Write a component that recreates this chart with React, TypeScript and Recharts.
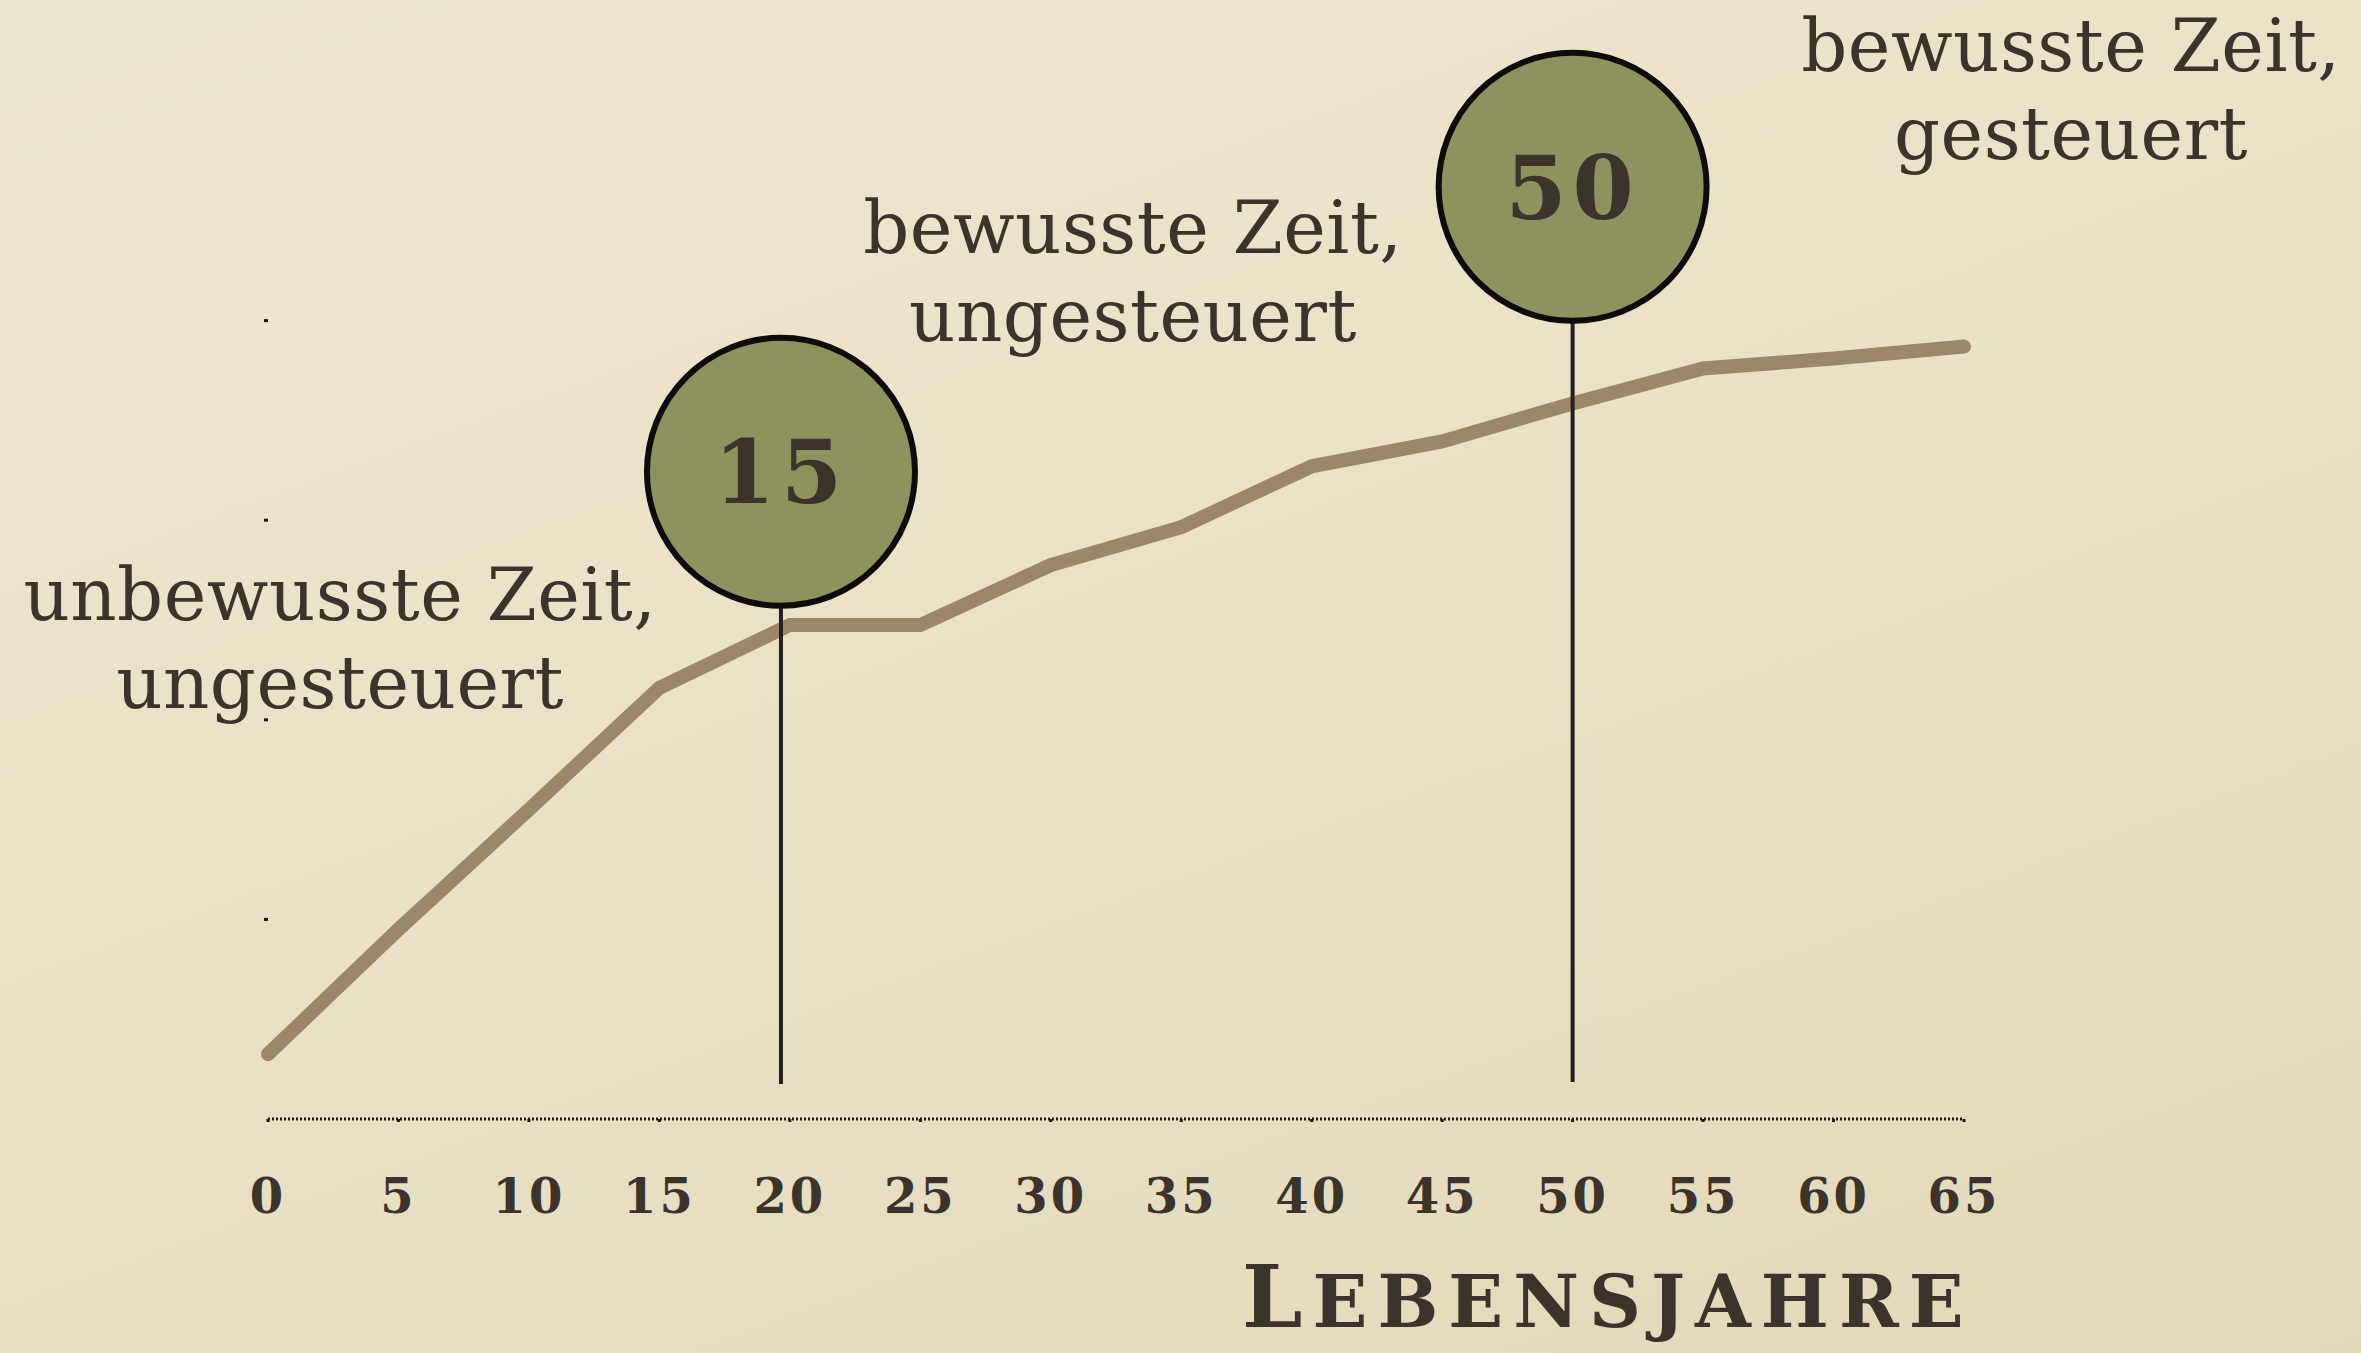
import React from 'react';
import { LineChart, Line, XAxis, YAxis, ReferenceLine, ReferenceDot, Label } from 'recharts';

// age (years) and the curve value
const ages = [0, 5, 10, 15, 20, 25, 30, 35, 40, 45, 50, 55, 60, 65];
const values = [6.5, 19, 31, 43.2, 49.5, 49.5, 55.5, 59.3, 65.4, 67.9, 71.7, 75.2, 76.2, 77.4];
const xTicks = [0, 5, 10, 15, 20, 25, 30, 35, 40, 45, 50, 55, 60, 65];
const yTicks = [20, 40, 60, 80];

// milestone balloons: label, age position, balloon height, stick bottom
const milestoneLabels = ['15', '50'];
const milestoneAges = [19.66, 50];
const milestoneHeights = [64.85, 93.4];
const milestoneBase = [3.5, 3.7];

// annotation texts and where they sit (data units, first baseline)
const noteLines = [
  ['unbewusste Zeit,', 'ungesteuert'],
  ['bewusste Zeit,', 'ungesteuert'],
  ['bewusste Zeit,', 'gesteuert'],
];
const noteX = [2.76, 33.15, 69.1];
const noteY = [50.0, 86.8, 105.0];

const axisTitle = 'Lebensjahre';

const data = ages.map((a, i) => ({ age: a, value: values[i] }));

const INK = '#3a342b';
const SERIF = '"DejaVu Serif", "Liberation Serif", serif';

const renderXTick = (props: any) => {
  const { x, y, payload } = props;
  return (
    <text x={x} y={y} dy="0.71em" textAnchor="middle" fill={INK} fontFamily={SERIF} fontWeight="bold" fontSize={48} letterSpacing={3}>
      {payload.value}
    </text>
  );
};

const noteContent = (lines: string[]) => (props: any) => {
  const vb = props.viewBox || {};
  const cx = vb.x + (vb.width || 0) / 2;
  const cy = vb.y + (vb.height || 0) / 2;
  return (
    <text x={cx} y={cy} textAnchor="middle" fill={INK} fontFamily={SERIF} fontSize={72} letterSpacing={0.5}>
      {lines.map((l, i) => (
        <tspan key={i} x={cx} dy={i === 0 ? 0 : 88}>{l}</tspan>
      ))}
    </text>
  );
};

const balloonContent = (text: string) => (props: any) => {
  const vb = props.viewBox || {};
  const cx = vb.x + vb.width / 2;
  const cy = vb.y + vb.height / 2;
  return (
    <text x={cx} y={cy} dy="0.36em" textAnchor="middle" fill={INK} fontFamily={SERIF} fontWeight="bold" fontSize={88} letterSpacing={6}>
      {text}
    </text>
  );
};

const titleContent = (props: any) => {
  const vb = props.viewBox || {};
  const x = vb.x + vb.width * 0.79;
  const y = vb.y + 208;
  return (
    <text x={x} y={y} textAnchor="middle" fill={INK} fontFamily={SERIF} fontWeight="bold" letterSpacing={10}>
      <tspan fontSize={86}>{axisTitle.charAt(0).toUpperCase()}</tspan>
      <tspan fontSize={72}>{axisTitle.slice(1).toUpperCase()}</tspan>
    </text>
  );
};

export default function App() {
  return (
    <div
      style={{
        position: 'absolute',
        top: 0,
        left: 0,
        width: 2361,
        height: 1353,
        background: 'linear-gradient(160deg, #eee7cf 0%, #e9e1c5 50%, #e2d9b9 100%)',
        overflow: 'hidden',
      }}
    >
      <LineChart width={2361} height={1353} data={data} margin={{ top: 121, right: 397, left: 248, bottom: 0 }}>
        <XAxis
          dataKey="age"
          type="number"
          domain={[0, 65]}
          ticks={xTicks}
          interval={0}
          height={234}
          axisLine={{ stroke: '#1c1a16', strokeWidth: 3, strokeDasharray: '2 2' }}
          tickLine={{ stroke: '#1c1a16', strokeWidth: 3, strokeDasharray: '0 4 3' }}
          tickSize={7}
          tickMargin={53}
          tick={renderXTick}
        >
          <Label content={titleContent} />
        </XAxis>
        <YAxis
          type="number"
          domain={[0, 100]}
          ticks={yTicks}
          width={20}
          axisLine={false}
          tickLine={{ stroke: '#1c1a16', strokeWidth: 3 }}
          tickSize={4}
          tick={() => <g />}
        />
        <Line
          type="linear"
          dataKey="value"
          stroke="#9c8769"
          strokeWidth={14}
          strokeLinecap="round"
          dot={false}
          activeDot={false}
          isAnimationActive={false}
        />
        {milestoneAges.map((a, i) => (
          <ReferenceLine
            key={`stick-${i}`}
            segment={[
              { x: a, y: milestoneBase[i] },
              { x: a, y: milestoneHeights[i] },
            ]}
            stroke="#24211c"
            strokeWidth={4}
            ifOverflow="visible"
          />
        ))}
        {milestoneAges.map((a, i) => (
          <ReferenceDot
            key={`balloon-${i}`}
            x={a}
            y={milestoneHeights[i]}
            r={134}
            fill="#8d925f"
            stroke="#0d0c0a"
            strokeWidth={6}
            ifOverflow="visible"
          >
            <Label content={balloonContent(milestoneLabels[i])} />
          </ReferenceDot>
        ))}
        {noteLines.map((lines, i) => (
          <ReferenceDot
            key={`note-${i}`}
            x={noteX[i]}
            y={noteY[i]}
            r={0}
            fill="none"
            stroke="none"
            ifOverflow="visible"
          >
            <Label content={noteContent(lines)} />
          </ReferenceDot>
        ))}
      </LineChart>
    </div>
  );
}
